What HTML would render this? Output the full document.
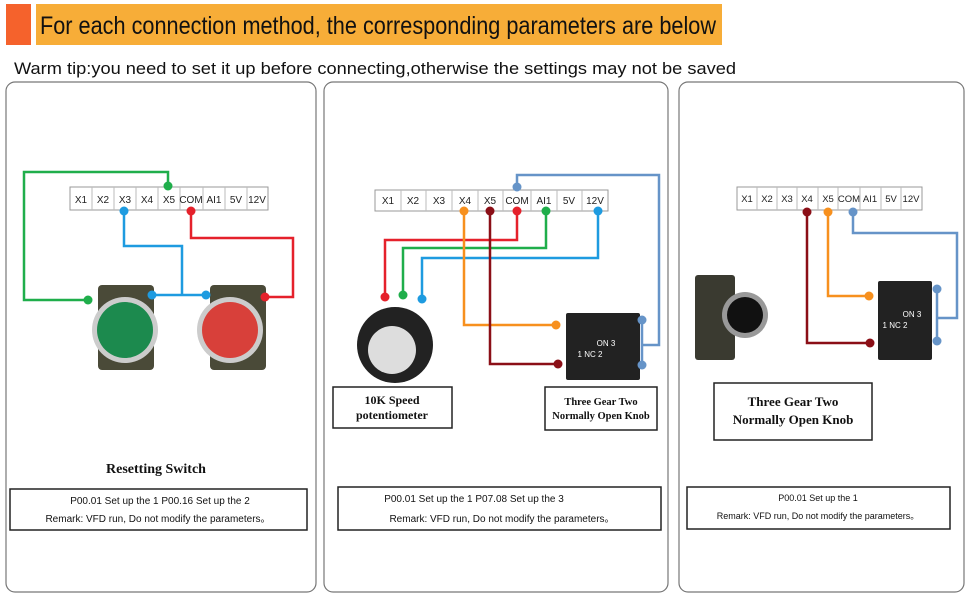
<!DOCTYPE html><html><head><style>body{margin:0;background:#fff}svg{display:block}</style></head><body>
<svg width="970" height="600" viewBox="0 0 970 600" xmlns="http://www.w3.org/2000/svg" font-family="Liberation Sans, sans-serif">
<rect x="6" y="4" width="25" height="41" fill="#f5622c"/>
<rect x="36" y="4" width="686" height="41" fill="#f7ad38"/>
<text x="40" y="34" font-size="25" fill="#111" textLength="676" lengthAdjust="spacingAndGlyphs">For each connection method, the corresponding parameters are below</text>
<text x="14" y="74" font-size="17" fill="#111" textLength="722" lengthAdjust="spacingAndGlyphs">Warm tip:you need to set it up before connecting,otherwise the settings may not be saved</text>
<g fill="none" stroke="#777" stroke-width="1.2">
<rect x="6" y="82" width="310" height="510" rx="9"/>
<rect x="324" y="82" width="344" height="510" rx="9"/>
<rect x="679" y="82" width="285" height="510" rx="9"/>
</g>
<!-- panel 1 -->
<g font-size="10" text-anchor="middle" fill="#222">
<rect x="70" y="187" width="198" height="23" fill="#fff" stroke="#999"/>
<g stroke="#bbb"><line x1="92" y1="187" x2="92" y2="210"/><line x1="114" y1="187" x2="114" y2="210"/><line x1="136" y1="187" x2="136" y2="210"/><line x1="158" y1="187" x2="158" y2="210"/><line x1="180" y1="187" x2="180" y2="210"/><line x1="203" y1="187" x2="203" y2="210"/><line x1="225" y1="187" x2="225" y2="210"/><line x1="247" y1="187" x2="247" y2="210"/></g>
<text x="81" y="203">X1</text><text x="103" y="203">X2</text><text x="125" y="203">X3</text><text x="147" y="203">X4</text><text x="169" y="203">X5</text><text x="191" y="203">COM</text><text x="214" y="203">AI1</text><text x="236" y="203">5V</text><text x="257" y="203">12V</text>
</g>
<g fill="none" stroke-width="2.5">
<polyline points="168,186 168,172 24,172 24,300 88,300" stroke="#1fae4b"/>
<polyline points="124,211 124,246 182,246 182,295" stroke="#1e9be0"/>
<line x1="152" y1="295" x2="206" y2="295" stroke="#1e9be0"/>
<polyline points="191,211 191,238 293,238 293,297 265,297" stroke="#e5212b"/>
</g>
<rect x="98" y="285" width="56" height="85" fill="#4a4a38" rx="4"/>
<circle cx="125" cy="330" r="33" fill="#ccc"/><circle cx="125" cy="330" r="28" fill="#1c8a4e"/>
<rect x="210" y="285" width="56" height="85" fill="#4a4a38" rx="4"/>
<circle cx="230" cy="330" r="33" fill="#ccc"/><circle cx="230" cy="330" r="28" fill="#d8403a"/>
<circle cx="168" cy="186" r="4.5" fill="#1fae4b"/><circle cx="88" cy="300" r="4.5" fill="#1fae4b"/>
<circle cx="124" cy="211" r="4.5" fill="#1e9be0"/><circle cx="152" cy="295" r="4.5" fill="#1e9be0"/><circle cx="206" cy="295" r="4.5" fill="#1e9be0"/>
<circle cx="191" cy="211" r="4.5" fill="#e5212b"/><circle cx="265" cy="297" r="4.5" fill="#e5212b"/>
<text x="156" y="473" font-size="14" font-weight="bold" font-family="Liberation Serif, serif" text-anchor="middle" fill="#111">Resetting Switch</text>
<!-- panel 2 -->
<g font-size="10" text-anchor="middle" fill="#222">
<rect x="375" y="190" width="233" height="21" fill="#fff" stroke="#999"/>
<g stroke="#bbb"><line x1="401" y1="190" x2="401" y2="211"/><line x1="426" y1="190" x2="426" y2="211"/><line x1="452" y1="190" x2="452" y2="211"/><line x1="478" y1="190" x2="478" y2="211"/><line x1="503" y1="190" x2="503" y2="211"/><line x1="531" y1="190" x2="531" y2="211"/><line x1="557" y1="190" x2="557" y2="211"/><line x1="582" y1="190" x2="582" y2="211"/></g>
<text x="388" y="204">X1</text><text x="413" y="204">X2</text><text x="439" y="204">X3</text><text x="465" y="204">X4</text><text x="490" y="204">X5</text><text x="517" y="204">COM</text><text x="544" y="204">AI1</text><text x="569" y="204">5V</text><text x="595" y="204">12V</text>
</g>
<g fill="none" stroke-width="2.5">
<polyline points="517,187 517,175 659,175 659,345 642,345" stroke="#6694c8"/>
<line x1="642" y1="320" x2="642" y2="365" stroke="#6694c8"/>
<polyline points="517,211 517,240 385,240 385,297" stroke="#e5212b"/>
<polyline points="546,211 546,248 403,248 403,295" stroke="#1fae4b"/>
<polyline points="598,211 598,258 422,258 422,299" stroke="#1e9be0"/>
<polyline points="464,211 464,325 556,325" stroke="#f7901e"/>
<polyline points="490,211 490,364 558,364" stroke="#8b0f17"/>
</g>
<circle cx="395" cy="345" r="38" fill="#222"/><circle cx="392" cy="350" r="24" fill="#ddd"/>
<rect x="566" y="313" width="74" height="67" fill="#222" rx="2"/>
<text x="606" y="346" font-size="8" fill="#fff" text-anchor="middle">ON 3</text><text x="590" y="357" font-size="8" fill="#fff" text-anchor="middle">1 NC 2</text>
<g>
<circle cx="517" cy="187" r="4.5" fill="#6694c8"/><circle cx="642" cy="320" r="4.5" fill="#6694c8"/><circle cx="642" cy="365" r="4.5" fill="#6694c8"/>
<circle cx="464" cy="211" r="4.5" fill="#f7901e"/><circle cx="556" cy="325" r="4.5" fill="#f7901e"/>
<circle cx="490" cy="211" r="4.5" fill="#8b0f17"/><circle cx="558" cy="364" r="4.5" fill="#8b0f17"/>
<circle cx="517" cy="211" r="4.5" fill="#e5212b"/><circle cx="385" cy="297" r="4.5" fill="#e5212b"/>
<circle cx="546" cy="211" r="4.5" fill="#1fae4b"/><circle cx="403" cy="295" r="4.5" fill="#1fae4b"/>
<circle cx="598" cy="211" r="4.5" fill="#1e9be0"/><circle cx="422" cy="299" r="4.5" fill="#1e9be0"/>
</g>
<g font-family="Liberation Serif, serif" font-weight="bold" text-anchor="middle" fill="#111">
<rect x="333" y="387" width="119" height="41" fill="#fff" stroke="#222" stroke-width="1.5"/>
<text x="392" y="404" font-size="12">10K Speed</text><text x="392" y="419" font-size="12">potentiometer</text>
<rect x="545" y="387" width="112" height="43" fill="#fff" stroke="#222" stroke-width="1.5"/>
<text x="601" y="405" font-size="10.5">Three Gear Two</text><text x="601" y="419" font-size="10.5">Normally Open Knob</text>
</g>
<!-- panel 3 -->
<g font-size="9.5" text-anchor="middle" fill="#222">
<rect x="737" y="187" width="185" height="23" fill="#fff" stroke="#999"/>
<g stroke="#bbb"><line x1="757" y1="187" x2="757" y2="210"/><line x1="777" y1="187" x2="777" y2="210"/><line x1="797" y1="187" x2="797" y2="210"/><line x1="818" y1="187" x2="818" y2="210"/><line x1="838" y1="187" x2="838" y2="210"/><line x1="860" y1="187" x2="860" y2="210"/><line x1="881" y1="187" x2="881" y2="210"/><line x1="901" y1="187" x2="901" y2="210"/></g>
<text x="747" y="202">X1</text><text x="767" y="202">X2</text><text x="787" y="202">X3</text><text x="807" y="202">X4</text><text x="828" y="202">X5</text><text x="849" y="202">COM</text><text x="870" y="202">AI1</text><text x="891" y="202">5V</text><text x="911" y="202">12V</text>
</g>
<g fill="none" stroke-width="2.5">
<polyline points="807,212 807,343 870,343" stroke="#8b0f17"/>
<polyline points="828,212 828,296 869,296" stroke="#f7901e"/>
<polyline points="853,212 853,233 957,233 957,318 937,318" stroke="#6694c8"/>
<line x1="937" y1="289" x2="937" y2="341" stroke="#6694c8"/>
</g>
<rect x="695" y="275" width="40" height="85" fill="#3a3a30" rx="3"/>
<circle cx="745" cy="315" r="23" fill="#999"/><circle cx="745" cy="315" r="18" fill="#111"/>
<rect x="878" y="281" width="54" height="79" fill="#222" rx="2"/>
<text x="912" y="317" font-size="8" fill="#fff" text-anchor="middle">ON 3</text><text x="895" y="328" font-size="8" fill="#fff" text-anchor="middle">1 NC 2</text>
<circle cx="807" cy="212" r="4.5" fill="#8b0f17"/><circle cx="870" cy="343" r="4.5" fill="#8b0f17"/>
<circle cx="828" cy="212" r="4.5" fill="#f7901e"/><circle cx="869" cy="296" r="4.5" fill="#f7901e"/>
<circle cx="853" cy="212" r="4.5" fill="#6694c8"/><circle cx="937" cy="289" r="4.5" fill="#6694c8"/><circle cx="937" cy="341" r="4.5" fill="#6694c8"/>
<g font-family="Liberation Serif, serif" font-weight="bold" text-anchor="middle" fill="#111">
<rect x="714" y="383" width="158" height="57" fill="#fff" stroke="#222" stroke-width="1.5"/>
<text x="793" y="406" font-size="13">Three Gear Two</text><text x="793" y="424" font-size="13">Normally Open Knob</text>
</g>
<!-- param boxes -->
<g font-size="10" text-anchor="middle" fill="#111">
<rect x="10" y="489" width="297" height="41" fill="#fff" stroke="#222" stroke-width="1.5"/>
<text x="160" y="504">P00.01 Set up the 1   P00.16 Set up the 2</text>
<text x="158" y="522">Remark:  VFD run,  Do not modify the parameters。</text>
<rect x="338" y="487" width="323" height="43" fill="#fff" stroke="#222" stroke-width="1.5"/>
<text x="474" y="502">P00.01 Set up the 1   P07.08 Set up the 3</text>
<text x="502" y="522">Remark:  VFD run,  Do not modify the parameters。</text>
<rect x="687" y="487" width="263" height="42" fill="#fff" stroke="#222" stroke-width="1.5"/>
<text x="818" y="501" font-size="9">P00.01 Set up the 1</text>
<text x="818" y="519" font-size="9">Remark:  VFD run,  Do not modify the parameters。</text>
</g>
</svg>
</body></html>
